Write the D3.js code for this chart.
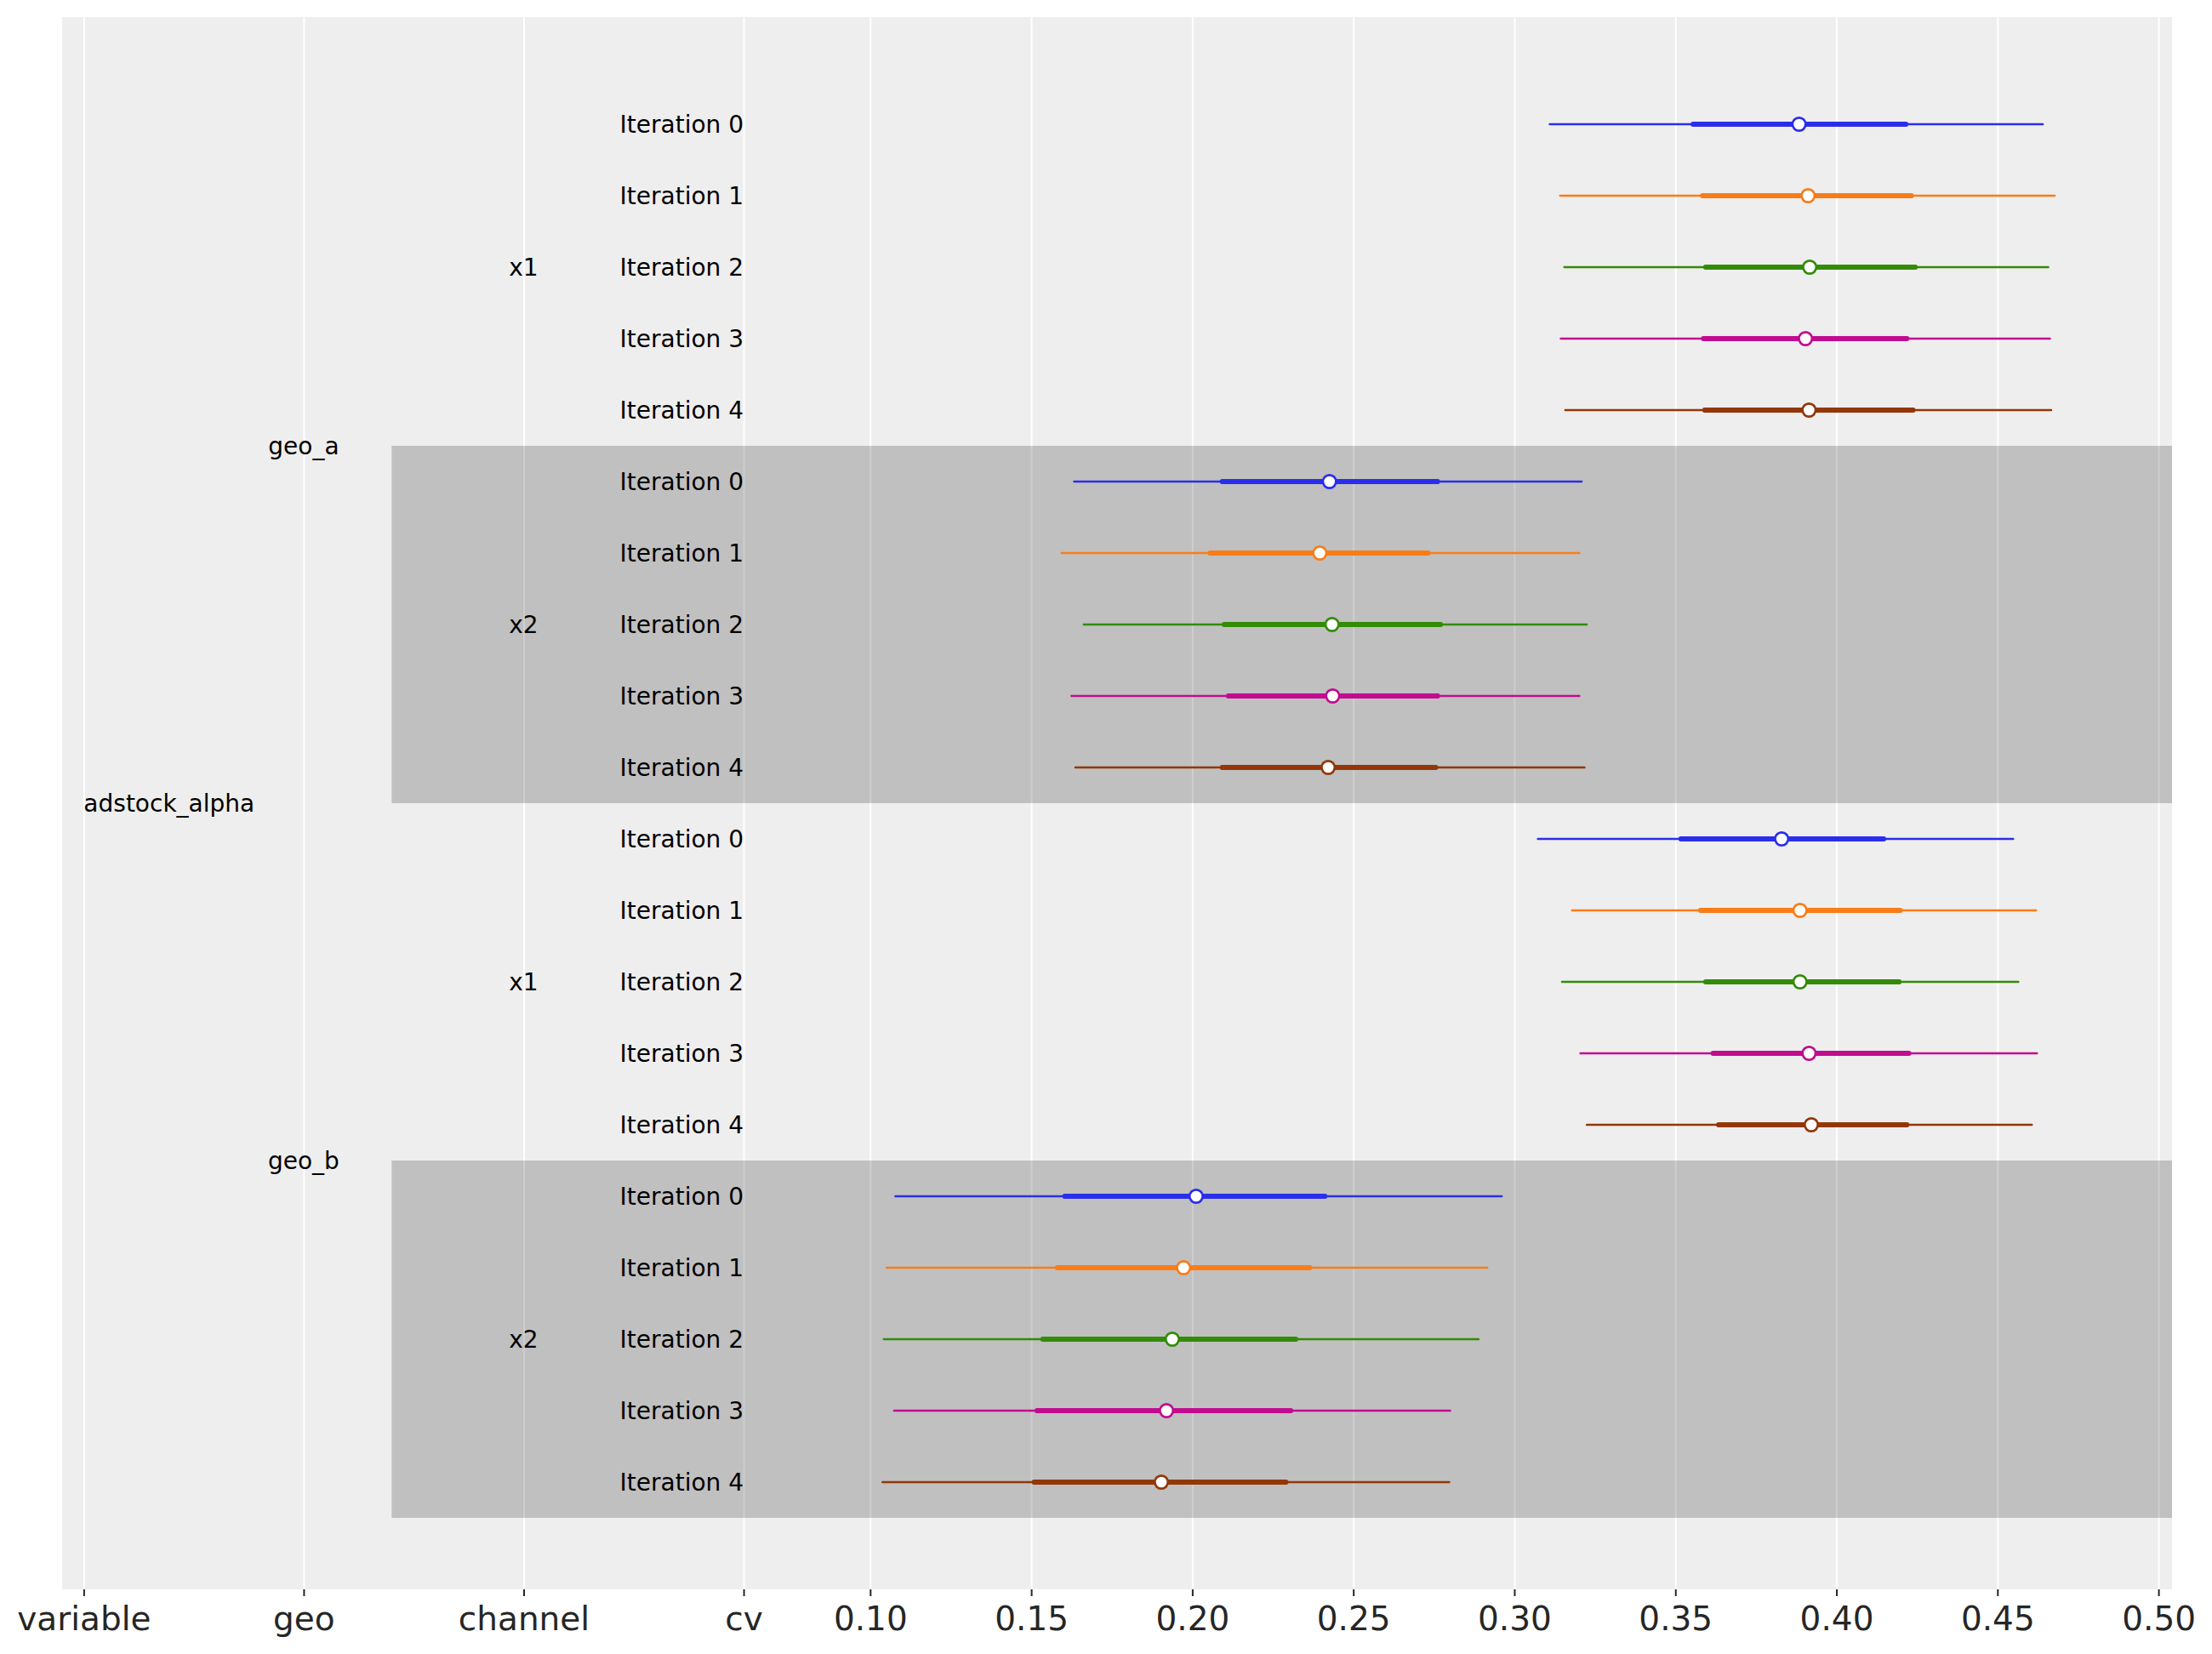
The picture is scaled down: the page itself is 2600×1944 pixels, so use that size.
<!DOCTYPE html>
<html>
<head>
<meta charset="utf-8">
<script src="https://cdn.jsdelivr.net/npm/d3@7"></script>
<style>
  body { margin: 0; background: #fff; }
  text { font-family: "DejaVu Sans", sans-serif; }
</style>
</head>
<body>
<svg id="chart"></svg>
<script>
// forest plot: adstock_alpha per geo / channel / iteration
const variables = ["adstock_alpha"];
const geos = ["geo_a", "geo_b"];
const channels = ["x1", "x2"];
const iterations = ["Iteration 0", "Iteration 1", "Iteration 2", "Iteration 3", "Iteration 4"];
const labelColumns = ["variable", "geo", "channel", "cv"];
const valueTicks = [0.10, 0.15, 0.20, 0.25, 0.30, 0.35, 0.40, 0.45, 0.50];

// rows: geo_a x1, geo_a x2, geo_b x1, geo_b x2 (iterations 0..4 each)
const medians = [0.3884, 0.3912, 0.3917, 0.3904, 0.3915,
                 0.2426, 0.2396, 0.2434, 0.2436, 0.2422,
                 0.3830, 0.3887, 0.3887, 0.3915, 0.3922,
                 0.2012, 0.1973, 0.1938, 0.1920, 0.1904];
const hdi94Low = [0.3110, 0.3142, 0.3155, 0.3144, 0.3158,
                  0.1633, 0.1594, 0.1663, 0.1625, 0.1637,
                  0.3073, 0.3179, 0.3148, 0.3205, 0.3225,
                  0.1078, 0.1051, 0.1042, 0.1074, 0.1038];
const hdi94High = [0.4641, 0.4678, 0.4658, 0.4663, 0.4667,
                   0.3209, 0.3202, 0.3225, 0.3202, 0.3218,
                   0.4549, 0.4620, 0.4565, 0.4623, 0.4607,
                   0.2961, 0.2916, 0.2889, 0.2801, 0.2798];
const hdi50Low = [0.3555, 0.3584, 0.3594, 0.3587, 0.3591,
                  0.2093, 0.2055, 0.2099, 0.2112, 0.2093,
                  0.3517, 0.3578, 0.3594, 0.3617, 0.3634,
                  0.1604, 0.1581, 0.1536, 0.1518, 0.1509];
const hdi50High = [0.4216, 0.4233, 0.4245, 0.4219, 0.4238,
                   0.2762, 0.2732, 0.2771, 0.2762, 0.2756,
                   0.4147, 0.4198, 0.4195, 0.4225, 0.4219,
                   0.2412, 0.2365, 0.2322, 0.2306, 0.2291];

const colors = ["#2a2eec", "#fa7c17", "#328c06", "#c10c90", "#933708"];

const svgWidth = 2600;
const svgHeight = 1944;
const margin = { top: 20, right: 47, bottom: 76, left: 73 };
const width = svgWidth - margin.left - margin.right;
const height = svgHeight - margin.top - margin.bottom;

// label columns sit left of the values on the same axis
const colStep = 0.0683;
const cvPos = 0.0607;
const colPos = labelColumns.map((c, i) => cvPos - (labelColumns.length - 1 - i) * colStep);

const xScale = d3.scaleLinear()
  .domain([-0.1509, 0.5042])
  .range([0, width]);

const nRows = medians.length;
const yScale = d3.scaleLinear()
  .domain([-1.5, nRows + 0.5])
  .range([0, height]);

const rows = medians.map((m, i) => {
  const it = i % iterations.length;
  const block = Math.floor(i / iterations.length);
  return {
    i, it, block,
    geo: geos[Math.floor(block / channels.length)],
    channel: channels[block % channels.length],
    median: m,
    lo94: hdi94Low[i], hi94: hdi94High[i],
    lo50: hdi50Low[i], hi50: hdi50High[i]
  };
});

const svg = d3.select("#chart")
  .attr("width", svgWidth)
  .attr("height", svgHeight)
  .append("g")
  .attr("transform", `translate(${margin.left},${margin.top})`);

svg.append("rect")
  .attr("width", width)
  .attr("height", height)
  .attr("fill", "#eeeeee");

const allTicks = colPos.concat(valueTicks);
const tickText = v => {
  const k = colPos.indexOf(v);
  return k >= 0 ? labelColumns[k] : d3.format(".2f")(v);
};

// grid
svg.append("g")
  .attr("transform", `translate(0,${height})`)
  .call(d3.axisBottom(xScale).tickValues(allTicks).tickSize(-height).tickFormat(""))
  .call(g => g.select(".domain").remove())
  .call(g => g.selectAll("line").attr("stroke", "#ffffff").attr("stroke-width", 2));

// shaded blocks for every other channel
const blockCount = geos.length * channels.length;
const bandLeft = xScale(colPos[1] + 0.4 * colStep);
svg.selectAll(".band")
  .data(d3.range(blockCount).filter(b => b % 2 === 1))
  .enter()
  .append("rect")
  .attr("class", "band")
  .attr("x", bandLeft)
  .attr("width", width - bandLeft)
  .attr("y", b => yScale(b * iterations.length - 0.5))
  .attr("height", b => yScale((b + 1) * iterations.length - 0.5) - yScale(b * iterations.length - 0.5))
  .attr("fill", "#000")
  .attr("fill-opacity", 0.193);

// x axis
svg.append("g")
  .attr("transform", `translate(0,${height})`)
  .call(d3.axisBottom(xScale).tickValues(allTicks).tickSize(8).tickPadding(12).tickFormat(tickText))
  .call(g => g.select(".domain").remove())
  .call(g => g.selectAll("line").attr("stroke", "#262626").attr("stroke-width", 2))
  .call(g => g.selectAll("text")
    .attr("fill", "#262626")
    .attr("font-size", "39px")
    .attr("font-family", "DejaVu Sans"));

// intervals
svg.selectAll(".hdi94")
  .data(rows)
  .enter()
  .append("line")
  .attr("x1", d => xScale(d.lo94))
  .attr("x2", d => xScale(d.hi94))
  .attr("y1", d => yScale(d.i))
  .attr("y2", d => yScale(d.i))
  .attr("stroke", d => colors[d.it])
  .attr("stroke-width", 2.4)
  .attr("stroke-linecap", "round");

svg.selectAll(".hdi50")
  .data(rows)
  .enter()
  .append("line")
  .attr("x1", d => xScale(d.lo50))
  .attr("x2", d => xScale(d.hi50))
  .attr("y1", d => yScale(d.i))
  .attr("y2", d => yScale(d.i))
  .attr("stroke", d => colors[d.it])
  .attr("stroke-width", 5.8)
  .attr("stroke-linecap", "round");

svg.selectAll(".med")
  .data(rows)
  .enter()
  .append("circle")
  .attr("cx", d => xScale(d.median))
  .attr("cy", d => yScale(d.i))
  .attr("r", 7.7)
  .attr("fill", "#ffffff")
  .attr("stroke", d => colors[d.it])
  .attr("stroke-width", 2.7);

// row labels
const labelSize = "28px";
svg.selectAll(".iterLabel")
  .data(rows)
  .enter()
  .append("text")
  .attr("x", xScale(colPos[3]))
  .attr("y", d => yScale(d.i))
  .attr("text-anchor", "end")
  .attr("dominant-baseline", "central")
  .attr("font-size", labelSize)
  .attr("fill", "#000")
  .text(d => iterations[d.it]);

svg.selectAll(".chanLabel")
  .data(d3.range(blockCount))
  .enter()
  .append("text")
  .attr("x", xScale(colPos[2]))
  .attr("y", b => yScale(b * iterations.length + (iterations.length - 1) / 2))
  .attr("text-anchor", "middle")
  .attr("dominant-baseline", "central")
  .attr("font-size", labelSize)
  .attr("fill", "#000")
  .text(b => channels[b % channels.length]);

const geoSpan = channels.length * iterations.length;
svg.selectAll(".geoLabel")
  .data(geos)
  .enter()
  .append("text")
  .attr("x", xScale(colPos[1]))
  .attr("y", (g, k) => yScale(k * geoSpan + (geoSpan - 1) / 2))
  .attr("text-anchor", "middle")
  .attr("dominant-baseline", "central")
  .attr("font-size", labelSize)
  .attr("fill", "#000")
  .text(g => g);

svg.selectAll(".varLabel")
  .data(variables)
  .enter()
  .append("text")
  .attr("x", xScale(colPos[0]))
  .attr("y", yScale((nRows - 1) / 2))
  .attr("text-anchor", "start")
  .attr("dominant-baseline", "central")
  .attr("font-size", labelSize)
  .attr("fill", "#000")
  .text(v => v);
</script>
</body>
</html>
